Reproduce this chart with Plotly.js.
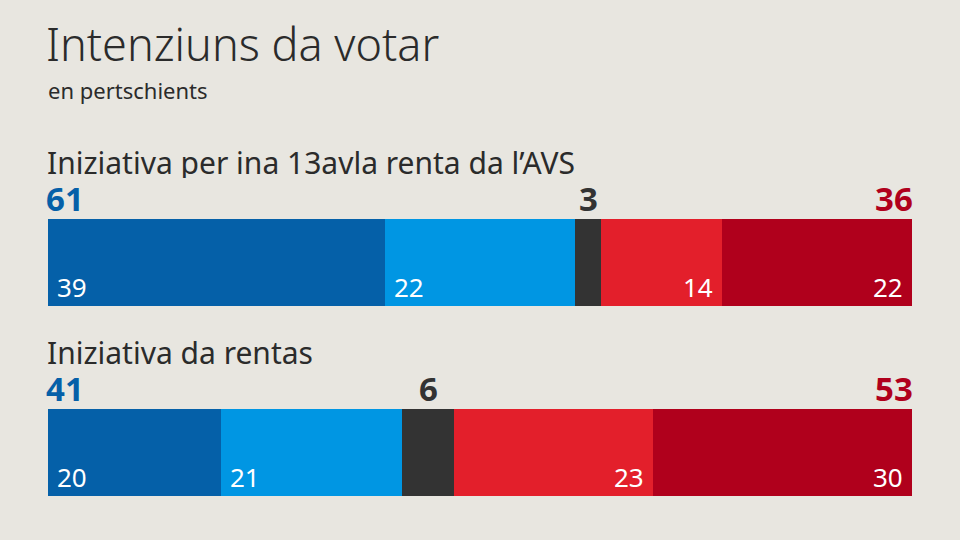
<!DOCTYPE html>
<html>
<head>
<meta charset="utf-8">
<script src="https://cdn.plot.ly/plotly-3.0.1.min.js"></script>
<style>html,body{margin:0;padding:0;background:#e8e6e0;}#chart{width:960px;height:540px;}</style>
</head>
<body>
<div id="chart"></div>
<script>
// ---- data ----
const questions = ['Iniziativa per ina 13avla renta da l’AVS', 'Iniziativa da rentas'];
const segYes = [39, 20];
const segRatherYes = [22, 21];
const segUndecided = [3, 6];
const segRatherNo = [14, 23];
const segNo = [22, 30];
const titleText = 'Intenziuns da votar';
const subtitleText = 'en pertschients';

// ---- styles ----
const C_YES = '#0560a8', C_RYES = '#0096e3', C_UND = '#333333', C_RNO = '#e31f2b', C_NO = '#b0001c';
const FONT = 'Noto Sans, Open Sans, sans-serif';
const BARW = 0.458;

const series = [
  {v: segYes, c: C_YES},
  {v: segRatherYes, c: C_RYES},
  {v: segUndecided, c: C_UND},
  {v: segRatherNo, c: C_RNO},
  {v: segNo, c: C_NO}
];
const yIdx = questions.map((q, i) => i);

const traces = series.map(s => ({
  type: 'bar', orientation: 'h',
  x: s.v, y: yIdx, width: BARW,
  marker: {color: s.c, line: {width: 0}},
  hoverinfo: 'skip', showlegend: false
}));

const ann = [];
questions.forEach((q, i) => {
  const a = segYes[i], b = segRatherYes[i], u = segUndecided[i], c = segRatherNo[i], d = segNo[i];
  const top = i - BARW / 2;
  const bot = i + BARW / 2;
  // question title
  ann.push({x: 0, y: top, xref: 'x', yref: 'y', xanchor: 'left', yanchor: 'middle', yshift: 57, xshift: -2,
    height: 32, borderpad: 0,
    text: q, showarrow: false, font: {family: FONT, size: 30, color: '#2b2b2b'}});
  // totals
  const tot = {xref: 'x', yref: 'y', yanchor: 'middle', yshift: 21, height: 30, borderpad: 0, showarrow: false};
  ann.push(Object.assign({}, tot, {x: 0, y: top, xanchor: 'left', xshift: -3,
    text: '<b>' + (a + b) + '</b>', font: {family: FONT, size: 33, color: C_YES}}));
  ann.push(Object.assign({}, tot, {x: a + b + u / 2, y: top, xanchor: 'center',
    text: '<b>' + u + '</b>', font: {family: FONT, size: 33, color: C_UND}}));
  ann.push(Object.assign({}, tot, {x: 100, y: top, xanchor: 'right', xshift: 2,
    text: '<b>' + (c + d) + '</b>', font: {family: FONT, size: 33, color: C_NO}}));
  // inner values
  const inner = [
    {x: 0, v: a, anchor: 'left', sh: 7},
    {x: a, v: b, anchor: 'left', sh: 7},
    {x: a + b + u + c, v: c, anchor: 'right', sh: -7},
    {x: 100, v: d, anchor: 'right', sh: -7}
  ];
  inner.forEach(t => ann.push({x: t.x, y: bot, xref: 'x', yref: 'y', xanchor: t.anchor, yanchor: 'middle',
    xshift: t.sh, yshift: 19, text: String(t.v), showarrow: false,
    font: {family: FONT, size: 26, color: '#ffffff'}}));
});
ann.push({x: 0, y: 1 - 90 / 540, xref: 'paper', yref: 'paper', xanchor: 'left', yanchor: 'middle', xshift: -2,
  text: subtitleText, showarrow: false, font: {family: FONT, size: 22, color: '#2b2b2b'}});

const layout = {
  width: 960, height: 540,
  paper_bgcolor: '#e8e6e0', plot_bgcolor: '#e8e6e0',
  margin: {l: 48, r: 48, t: 0, b: 0, pad: 0},
  barmode: 'stack', bargap: 0,
  title: {text: titleText, x: 46 / 960, xanchor: 'left', xref: 'container', y: 1 - 45 / 540, yanchor: 'middle', yref: 'container',
    font: {family: FONT, size: 45, color: '#2b2b2b', weight: 300}},
  xaxis: {range: [0, 100], visible: false, fixedrange: true},
  yaxis: {range: [(540 - 262.5) / 190, -262.5 / 190], visible: false, fixedrange: true},
  annotations: ann,
  showlegend: false
};

Plotly.newPlot('chart', traces, layout, {displayModeBar: false, staticPlot: true});
</script>
</body>
</html>
